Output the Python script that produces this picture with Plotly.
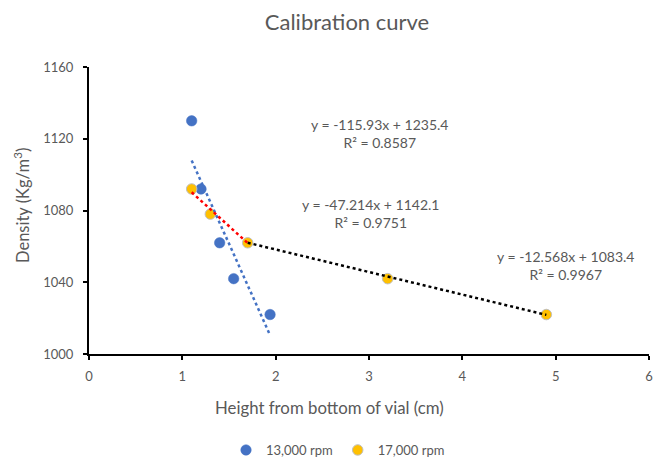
import numpy as np
import plotly.graph_objects as go

# Data
x_13k = [1.1, 1.2, 1.4, 1.55, 1.94]
y_13k = [1130, 1092, 1062, 1042, 1022]
x_17k = [1.1, 1.3, 1.7, 3.2, 4.9]
y_17k = [1092, 1078, 1062, 1042, 1022]

# Trendline equations (as shown on chart)
fit_labels = ["y = -115.93x + 1235.4<br>R² = 0.8587",
              "y = -47.214x + 1142.1<br>R² = 0.9751",
              "y = -12.568x + 1083.4<br>R² = 0.9967"]
slopes = [-115.93, -47.214, -12.568]
intercepts = [1235.4, 1142.1, 1083.4]
fit_ranges = [(min(x_13k), max(x_13k)), (x_17k[0], x_17k[2]), (x_17k[2], x_17k[4])]
fit_colors = ["#4472C4", "#FF0000", "#000000"]
label_pos = [(3.108, 1123), (3.02, 1078.4), (5.107, 1049.3)]

TXT = "#595959"
FONT = "Lato"

fig = go.Figure()
fig.add_trace(go.Scatter(x=x_13k, y=y_13k, mode="markers", name="13,000 rpm",
                         marker=dict(color="#4472C4", size=10.5, line=dict(width=0.5, color="#4472C4"))))
fig.add_trace(go.Scatter(x=x_17k, y=y_17k, mode="markers", name="17,000 rpm",
                         marker=dict(color="#FFC000", size=10.5, line=dict(width=1, color="#BFBFBF"))))

for (a, b), m, c, col in zip(fit_ranges, slopes, intercepts, fit_colors):
    xs = np.array([a, b])
    fig.add_trace(go.Scatter(x=xs, y=m * xs + c, mode="lines", showlegend=False,
                             line=dict(color=col, width=2.5, dash="dot"), hoverinfo="skip"))

for txt, (px, py) in zip(fit_labels, label_pos):
    fig.add_annotation(x=px, y=py, xref="x", yref="y", text=txt, showarrow=False,
                       font=dict(family=FONT, size=14, color=TXT), align="center")

PL, PR, PT, PB = 89, 649, 67, 354
pw, ph = PR - PL, PB - PT

# Axis titles
fig.add_annotation(x=(329 - PL) / pw, y=(PB - 407) / ph, xref="paper", yref="paper",
                   text="Height from bottom of vial (cm)", showarrow=False,
                   font=dict(family=FONT, size=16.8, color=TXT), xanchor="center", yanchor="middle")
fig.add_annotation(x=(22 - PL) / pw, y=(PB - 206) / ph, xref="paper", yref="paper",
                   text="Density (Kg/m<sup>3</sup>)", showarrow=False, textangle=-90,
                   font=dict(family=FONT, size=16.5, color=TXT), xanchor="center", yanchor="middle")

fig.update_layout(
    width=653, height=457,
    margin=dict(l=PL, r=653 - PR, t=PT, b=457 - PB, autoexpand=False),
    paper_bgcolor="white", plot_bgcolor="white",
    font=dict(family=FONT, size=12, color=TXT),
    title=dict(text="Calibration curve", x=347 / 653, xanchor="center", y=1 - 22 / 457, yanchor="middle",
               font=dict(family=FONT, size=22, color=TXT)),
    showlegend=True,
    legend=dict(orientation="h", x=(338 - PL) / pw, xanchor="center", y=(PB - 450) / ph, yanchor="middle",
                font=dict(family=FONT, size=13, color=TXT), itemwidth=30, tracegroupgap=0),
    xaxis=dict(range=[0, 6], dtick=1, showgrid=False, zeroline=False, showline=True, linecolor="black",
               linewidth=2, ticks="outside", ticklen=4, tickcolor="black", tickwidth=1.5,
               ticklabelstandoff=5,
               tickfont=dict(family=FONT, size=13, color=TXT), automargin=False),
    yaxis=dict(range=[1000, 1160], dtick=40, showgrid=False, zeroline=False, showline=True, linecolor="black",
               linewidth=2, ticks="outside", ticklen=4, tickcolor="black", tickwidth=1.5,
               ticklabelstandoff=7,
               tickfont=dict(family=FONT, size=13, color=TXT), automargin=False),
)

fig.write_html("out.html")
